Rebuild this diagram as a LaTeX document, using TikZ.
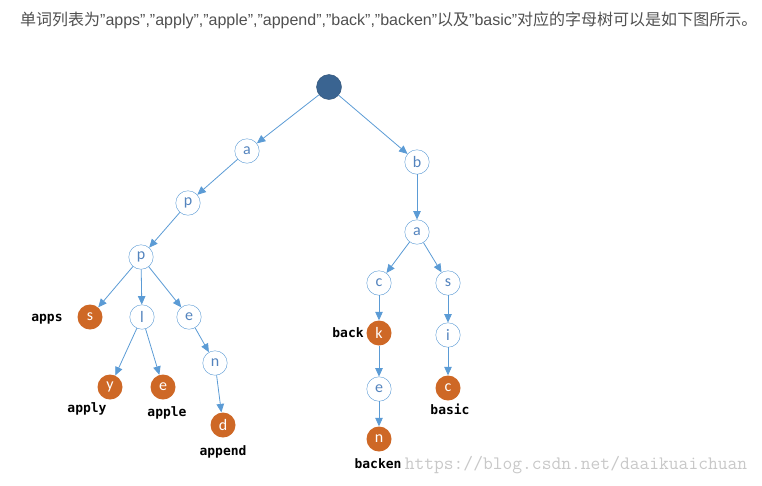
\documentclass[tikz,border=0pt]{standalone}
\usepackage{fontspec}
\setmainfont{Carlito}
\setsansfont{Liberation Sans}
\newfontfamily\cjkfont{Noto Sans CJK SC}
\newfontfamily\wordfont{DejaVu Sans Mono}
\newcommand\zh[1]{{\cjkfont #1}}
\usetikzlibrary{arrows.meta}

\definecolor{linkblue}{RGB}{91,155,213}
\definecolor{letterblue}{RGB}{84,132,190}
\definecolor{rootblue}{RGB}{58,100,145}
\definecolor{endorange}{RGB}{206,104,38}
\definecolor{titlegray}{RGB}{80,80,80}
\definecolor{markgray}{RGB}{200,200,200}

\begin{document}
\begin{tikzpicture}[x=1pt,y=-1pt]
        \useasboundingbox (0,0) rectangle (762,485);

        \node[anchor=west,text=titlegray,inner sep=0pt,font=\sffamily\fontsize{16}{18}\selectfont] (title) at (20,20)
          {\zh{单词列表为}”apps”,”apply”,”apple”,”append”,”back”,”backen”\zh{以及}”basic”\zh{对应的字母树可以是如下图所示。}};

        \begin{scope}[every node/.style={circle,draw=linkblue,fill=white,text=letterblue,
            minimum size=24.5pt,inner sep=0pt,font=\fontsize{16}{16}\selectfont}]
          \node[fill=rootblue,draw=rootblue!80!black,minimum size=25pt] (root) at (329,87) {};
          \node (a)     at (247,151) {a};
          \node (ap)    at (188,203) {p};
          \node (app)   at (141,257) {p};
          \node (appl)  at (142,317) {l};
          \node (appe)  at (189,317) {e};
          \node (appen) at (215,363) {n};
          \node (b)     at (417,162) {b};
          \node (ba)    at (417,232) {a};
          \node (bac)   at (379,283) {c};
          \node (bas)   at (448,283) {s};
          \node (basi)  at (448,335) {i};
          \node (backe) at (379,389) {e};
          \begin{scope}[every node/.style={circle,fill=endorange,text=white,
              minimum size=25pt,inner sep=0pt,font=\fontsize{16}{16}\selectfont}]
            \node (apps)   at (90,317)  {s};
            \node (apply)  at (110,387) {y};
            \node (apple)  at (163,387) {e};
            \node (append) at (223,425) {d};
            \node (back)   at (379,333) {k};
            \node (basic)  at (448,388) {c};
            \node (backen) at (379,439) {n};
          \end{scope}
        \end{scope}

        \begin{scope}[every edge/.style={draw=linkblue,line width=0.8pt,
            -{Triangle[length=8.5pt,width=7.5pt]}}]
          \path (root)  edge (a);
          \path (root)  edge (b);
          \path (a)     edge (ap);
          \path (ap)    edge (app);
          \path (app)   edge (apps);
          \path (app)   edge (appl);
          \path (app)   edge (appe);
          \path (appl)  edge (apply);
          \path (appl)  edge (apple);
          \path (appe)  edge (appen);
          \path (appen) edge (append);
          \path (b)     edge (ba);
          \path (ba)    edge (bac);
          \path (ba)    edge (bas);
          \path (bac)   edge (back);
          \path (back)  edge (backe);
          \path (backe) edge (backen);
          \path (bas)   edge (basi);
          \path (basi)  edge (basic);
        \end{scope}

        % words at the end nodes
        \node[text=markgray,inner sep=0pt,font=\ttfamily\fontsize{19}{19}\selectfont] (mark) at (576,465)
          {https://blog.csdn.net/daaikuaichuan};
        \begin{scope}[every node/.style={font=\wordfont\bfseries\fontsize{13}{13}\selectfont,inner sep=0pt}]
          \node (wapps)   at (47,319)  {apps};
          \node (wapply)  at (87,409)  {apply};
          \node (wapple)  at (167,413) {apple};
          \node (wappend) at (223,452) {append};
          \node (wback)   at (348,333) {back};
          \node (wbasic)  at (450,409) {basic};
          \node (wbacken) at (378,464) {backen};
        \end{scope}

      \end{tikzpicture}
\end{document}
